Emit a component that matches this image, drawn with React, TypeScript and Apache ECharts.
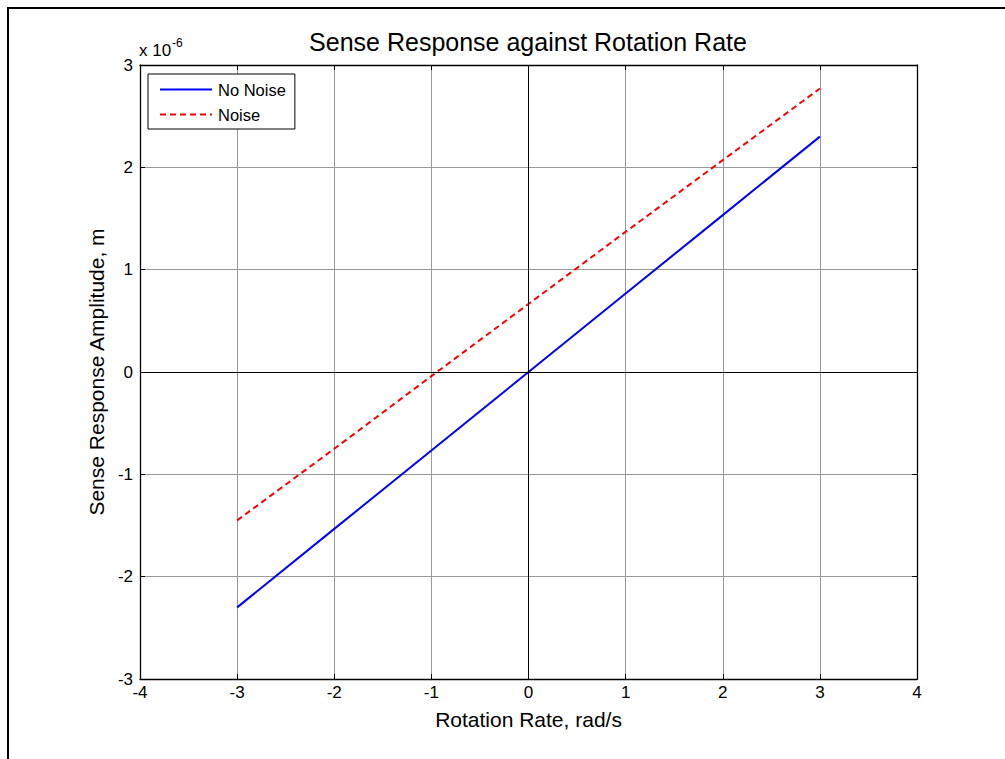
import React, { useEffect, useRef } from "react";
import * as echarts from "echarts";

// Rotation rate samples (rad/s)
const rotationRate = [-3, -2, -1, 0, 1, 2, 3];
// Sense response amplitude, in units of 1e-6 m
const noNoise = [-2.3, -1.533, -0.767, 0, 0.767, 1.533, 2.3];
const withNoise = [-1.45, -0.75, -0.04, 0.665, 1.37, 2.07, 2.77];
const xTicks = [-4, -3, -2, -1, 0, 1, 2, 3, 4];
const yTicks = [-3, -2, -1, 0, 1, 2, 3];

const FONT = "Liberation Sans, Arial, sans-serif";

export default function App() {
  const ref = useRef<HTMLDivElement>(null);

  useEffect(() => {
    if (!ref.current) return;
    const chart = echarts.init(ref.current, null, { renderer: "svg" });
    const pairs = (ys: number[]) => rotationRate.map((x, i) => [x, ys[i]]);
    const gridLine = { show: true, lineStyle: { color: "#999", width: 1 } };
    const tickStyle = { inside: true, length: 5, lineStyle: { color: "#000" } };
    const lineAx = { show: true, onZero: false, lineStyle: { color: "#000", width: 1.3 } };

    chart.setOption({
      animation: false,
      backgroundColor: "#fff",
      textStyle: { fontFamily: FONT },
      title: {
        text: "Sense Response against Rotation Rate",
        left: 528,
        textAlign: "center",
        top: 29,
        padding: 0,
        textStyle: { fontSize: 25, fontWeight: "normal", color: "#000", fontFamily: FONT },
      },
      grid: { left: 140, right: 88, top: 65, bottom: 80 },
      legend: {
        left: 148,
        top: 74,
        orient: "vertical",
        itemWidth: 52,
        itemHeight: 14,
        itemGap: 8,
        padding: [7, 9, 6, 11],
        backgroundColor: "#fff",
        borderColor: "#000",
        borderWidth: 1,
        itemStyle: { opacity: 0 },
        textStyle: { fontSize: 16.5, color: "#000", fontFamily: FONT, padding: [0, 0, 0, 1] },
        data: ["No Noise", "Noise"],
      },
      xAxis: [
        {
          type: "value",
          min: xTicks[0],
          max: xTicks[xTicks.length - 1],
          interval: 1,
          position: "bottom",
          axisLine: lineAx,
          axisTick: tickStyle,
          axisLabel: { color: "#000", fontSize: 17, margin: 5, fontFamily: FONT },
          splitLine: gridLine,
          name: "Rotation Rate, rad/s",
          nameLocation: "middle",
          nameGap: 30,
          nameTextStyle: { fontSize: 21, color: "#000", fontFamily: FONT },
        },
        {
          type: "value",
          min: xTicks[0],
          max: xTicks[xTicks.length - 1],
          interval: 1,
          position: "top",
          axisLine: lineAx,
          axisTick: tickStyle,
          axisLabel: { show: false },
          splitLine: { show: false },
        },
      ],
      yAxis: [
        {
          type: "value",
          min: yTicks[0],
          max: yTicks[yTicks.length - 1],
          interval: 1,
          position: "left",
          axisLine: lineAx,
          axisTick: tickStyle,
          axisLabel: { color: "#000", fontSize: 17, margin: 7, fontFamily: FONT },
          splitLine: gridLine,
          name: "Sense Response Amplitude, m",
          nameLocation: "middle",
          nameGap: 24,
          nameTextStyle: { fontSize: 21, color: "#000", fontFamily: FONT },
        },
        {
          type: "value",
          min: yTicks[0],
          max: yTicks[yTicks.length - 1],
          interval: 1,
          position: "right",
          axisLine: lineAx,
          axisTick: tickStyle,
          axisLabel: { show: false },
          splitLine: { show: false },
        },
      ],
      series: [
        {
          name: "No Noise",
          type: "line",
          data: pairs(noNoise),
          showSymbol: false,
          symbol: "none",
          lineStyle: { color: "#0000ff", width: 2 },
          itemStyle: { color: "#0000ff" },
          markLine: {
            silent: true,
            symbol: "none",
            label: { show: false },
            lineStyle: { color: "#000", width: 1, type: "solid" },
            data: [{ xAxis: 0 }, { yAxis: 0 }],
          },
          z: 3,
        },
        {
          name: "Noise",
          type: "line",
          data: pairs(withNoise),
          showSymbol: false,
          symbol: "none",
          lineStyle: { color: "#ff0000", width: 2, type: [6, 4] },
          itemStyle: { color: "#ff0000" },
          z: 3,
        },
      ],
      graphic: [
        {
          type: "text",
          left: 139,
          top: 42,
          style: { text: "x 10", fontSize: 17, fontFamily: FONT, fill: "#000" },
        },
        {
          type: "text",
          left: 172,
          top: 37,
          style: { text: "-6", fontSize: 12, fontFamily: FONT, fill: "#000" },
        },
        { type: "line", shape: { x1: 7, y1: 8, x2: 1005, y2: 8 }, style: { stroke: "#000", lineWidth: 2 } },
        { type: "line", shape: { x1: 8, y1: 8, x2: 8, y2: 759 }, style: { stroke: "#000", lineWidth: 2 } },
      ],
    });
    return () => chart.dispose();
  }, []);

  return <div ref={ref} style={{ width: 1005, height: 759, position: "absolute", left: 0, top: 0 }} />;
}
